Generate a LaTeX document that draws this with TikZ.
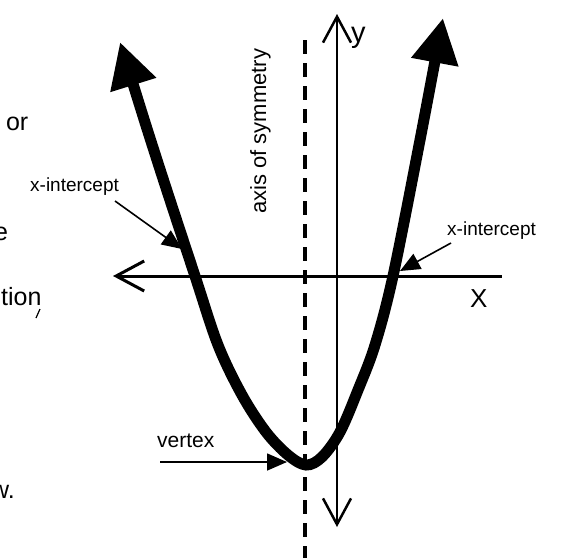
\documentclass[tikz,border=0pt]{standalone}
\usepackage{fontspec}
\setmainfont{Liberation Sans}
\usetikzlibrary{arrows.meta}
\tikzset{
  lbl/.style={font=\fontsize{19}{19}\selectfont, inner sep=0pt, anchor=base west},
  symlbl/.style={font=\fontsize{22}{22}\selectfont, inner sep=0pt, anchor=base west, rotate=90},
  vxlbl/.style={font=\fontsize{21}{21}\selectfont, inner sep=0pt, anchor=base west},
  frag/.style={font=\fontsize{25}{25}\selectfont, inner sep=0pt, anchor=base west},
  ylbl/.style={font=\fontsize{29}{29}\selectfont, inner sep=0pt, anchor=base west},
  xlbl/.style={font=\fontsize{26}{26}\selectfont, inner sep=0pt, anchor=base west},
  curve/.style={line width=11pt, line cap=butt,
    {Triangle[length=45pt,width=45pt]}-{Triangle[length=45pt,width=45pt]}},
  axisx/.style={line width=3pt, {Straight Barb[length=28pt,width=30pt]}-},
  axisy/.style={line width=2.5pt, {Straight Barb[length=26pt,width=28pt]}-{Straight Barb[length=26pt,width=28pt]}},
  symline/.style={line width=4.5pt, dash pattern=on 14pt off 9pt},
  pointer/.style={line width=1.6pt, -{Triangle[length=20pt,width=17pt]}}
}
\begin{document}
\begin{tikzpicture}[x=1pt,y=-1pt]
\useasboundingbox (0,0) rectangle (567,558);
% text fragments at the left edge
\node[frag] (f1) at (-15,130) {e or};
\node[frag] (f2) at (-6,240) {e};
\node[frag] (f3) at (1,305) {tion};
\node[frag] (f5) at (-9,498) {w.};
\draw[line width=1.2pt] (40,309) -- (36,318);
% axes
\coordinate (xl) at (113,276);
\coordinate (xr) at (502,276);
\draw[axisx] (xl) -- (xr);
\coordinate (yt) at (337,14);
\coordinate (yb) at (337,527);
\draw[axisy] (yt) -- (yb);
\node[ylbl] (ylab) at (351,42) {y};
\node[xlbl] (xlab) at (470,307) {X};
% axis of symmetry
\coordinate (st) at (305,40);
\coordinate (sb) at (305,558);
\draw[symline] (st) -- (sb);
\node[symlbl] (sym) at (266,214) {axis of symmetry};
% parabola
\draw[curve] plot[smooth, tension=0.55] coordinates {
 (120,42) (157,160) (195,276) (218,345) (242,395) (266,432) (288,455)
 (306,465) (322,457) (340,432) (358,390) (375,345) (393,276) (420,140) (443,18)};
% labels with pointers
\node[lbl] (xi1) at (30,191) {x-intercept};
\coordinate (p1s) at (115,201);
\coordinate (p1e) at (182,249);
\draw[pointer] (p1s) -- (p1e);
\node[lbl] (xi2) at (447,235) {x-intercept};
\coordinate (p2s) at (451,243);
\coordinate (p2e) at (400,271);
\draw[pointer] (p2s) -- (p2e);
\node[vxlbl] (vx) at (157,447) {vertex};
\coordinate (p3s) at (160,462);
\coordinate (p3e) at (287,462);
\draw[pointer] (p3s) -- (p3e);
\end{tikzpicture}
\end{document}
